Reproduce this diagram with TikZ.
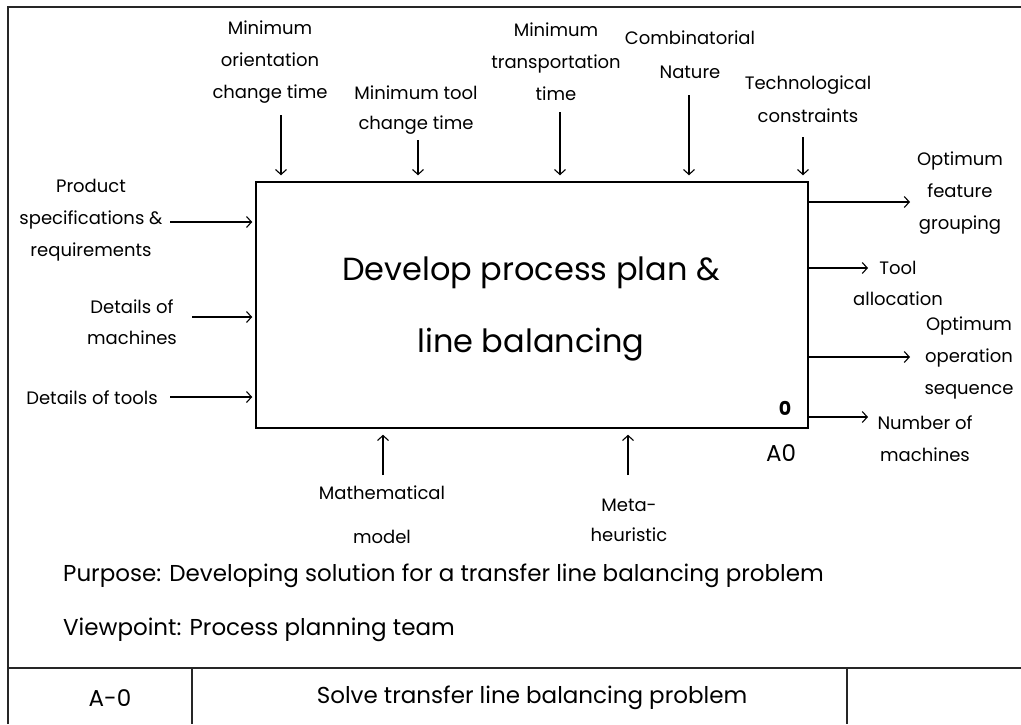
\documentclass[tikz,border=0pt]{standalone}
\usepackage{fontspec}
\setmainfont{Poppins}
\usetikzlibrary{arrows.meta}
\begin{document}
\begin{tikzpicture}[x=1pt,y=-1pt,
  lab/.style={align=center,inner sep=0pt,font=\fontsize{18}{32}\selectfont},
  arr/.style={line width=1.1pt,-{Straight Barb[length=5pt,width=11pt]}},
  frameline/.style={line width=1.3pt,draw=black!85},
  mainbox/.style={draw,line width=2.5pt,minimum width=552pt,minimum height=246pt,inner sep=0pt},
  bigtext/.style={align=center,inner sep=0pt,font=\fontsize{32}{72}\selectfont},
  foot/.style={anchor=west,inner sep=0pt,font=\fontsize{23}{27}\selectfont}]
\useasboundingbox (0,0) rectangle (1021,724);
% frame
\draw[frameline] (8,724) -- (8,7) -- (1021,7);
\draw[frameline] (8,668) -- (1021,668);
\draw[frameline] (192,668) -- (192,724);
\draw[frameline] (847,668) -- (847,724);
% main box
\node[mainbox] (box) at (532,305) {};
\node[bigtext] (title) at (531,309) {Develop process plan \&\\line balancing};
\node[inner sep=0pt,font=\fontsize{19}{22}\selectfont\bfseries] (num) at (785,408) {0};
\node[inner sep=0pt,font=\fontsize{23}{27}\selectfont] (a0) at (781,453) {A0};
% top controls
\node[lab] (L1) at (270,62) {Minimum\\orientation\\change time};
\node[lab,font=\fontsize{18}{30}\selectfont] (L2) at (416,110) {Minimum tool\\change time};
\node[lab] (L3) at (556,62) {Minimum\\transportation\\time};
\node[lab,font=\fontsize{18}{34}\selectfont] (L4) at (690,55) {Combinatorial\\Nature};
\node[lab,font=\fontsize{18}{33}\selectfont] (L5) at (808,99) {Technological\\constraints};
\coordinate (t1) at (281,115);
\coordinate (t2) at (418,140);
\coordinate (t3) at (560,112);
\coordinate (t4) at (689,95);
\coordinate (t5) at (803,137);
\foreach \c in {t1,t2,t3,t4,t5}
  \draw[arr,shorten >=5.5pt] (\c) -- (\c |- box.north);
% inputs
\node[lab] (I1) at (91,220) {Product\\specifications \&\\requirements};
\node[lab,font=\fontsize{18}{31}\selectfont] (I2) at (132,322) {Details of\\machines};
\node[lab] (I3) at (92,398) {Details of tools};
\coordinate (l1) at (170,222);
\coordinate (l2) at (192,317);
\coordinate (l3) at (170,397);
\foreach \c in {l1,l2,l3}
  \draw[arr,shorten >=2.5pt] (\c) -- (\c -| box.west);
% outputs
\node[lab] (O1) at (960,193) {Optimum\\feature\\grouping};
\node[lab,font=\fontsize{18}{31}\selectfont] (O2) at (898,283) {Tool\\allocation};
\node[lab] (O3) at (969,358) {Optimum\\operation\\sequence};
\node[lab] (O4) at (925,439) {Number of\\machines};
\coordinate (r1) at (910,202);
\coordinate (r2) at (868,268);
\coordinate (r3) at (910,357);
\coordinate (r4) at (868,417);
\foreach \c in {r1,r2,r3,r4}
  \draw[arr] (\c -| box.east) -- (\c);
% mechanisms
\node[lab,font=\fontsize{18}{44}\selectfont] (M1) at (382,515) {Mathematical\\model};
\node[lab,font=\fontsize{18}{30}\selectfont] (M2) at (629,520) {Meta-\\heuristic};
\coordinate (b1) at (383,475);
\coordinate (b2) at (628,475);
\foreach \c in {b1,b2}
  \draw[arr,shorten >=5.5pt] (\c) -- (\c |- box.south);
% footer texts
\node[foot] (purpose) at (63,576) {Purpose: Developing solution for a transfer line balancing problem};
\node[foot] (viewpoint) at (63,630) {Viewpoint: Process planning team};
\node[inner sep=0pt,font=\fontsize{23}{27}\selectfont] (nodeid) at (110,698) {A-0};
\node[inner sep=0pt,font=\fontsize{23}{27}\selectfont] (ttl) at (532,698) {Solve transfer line balancing problem};
\end{tikzpicture}
\end{document}
